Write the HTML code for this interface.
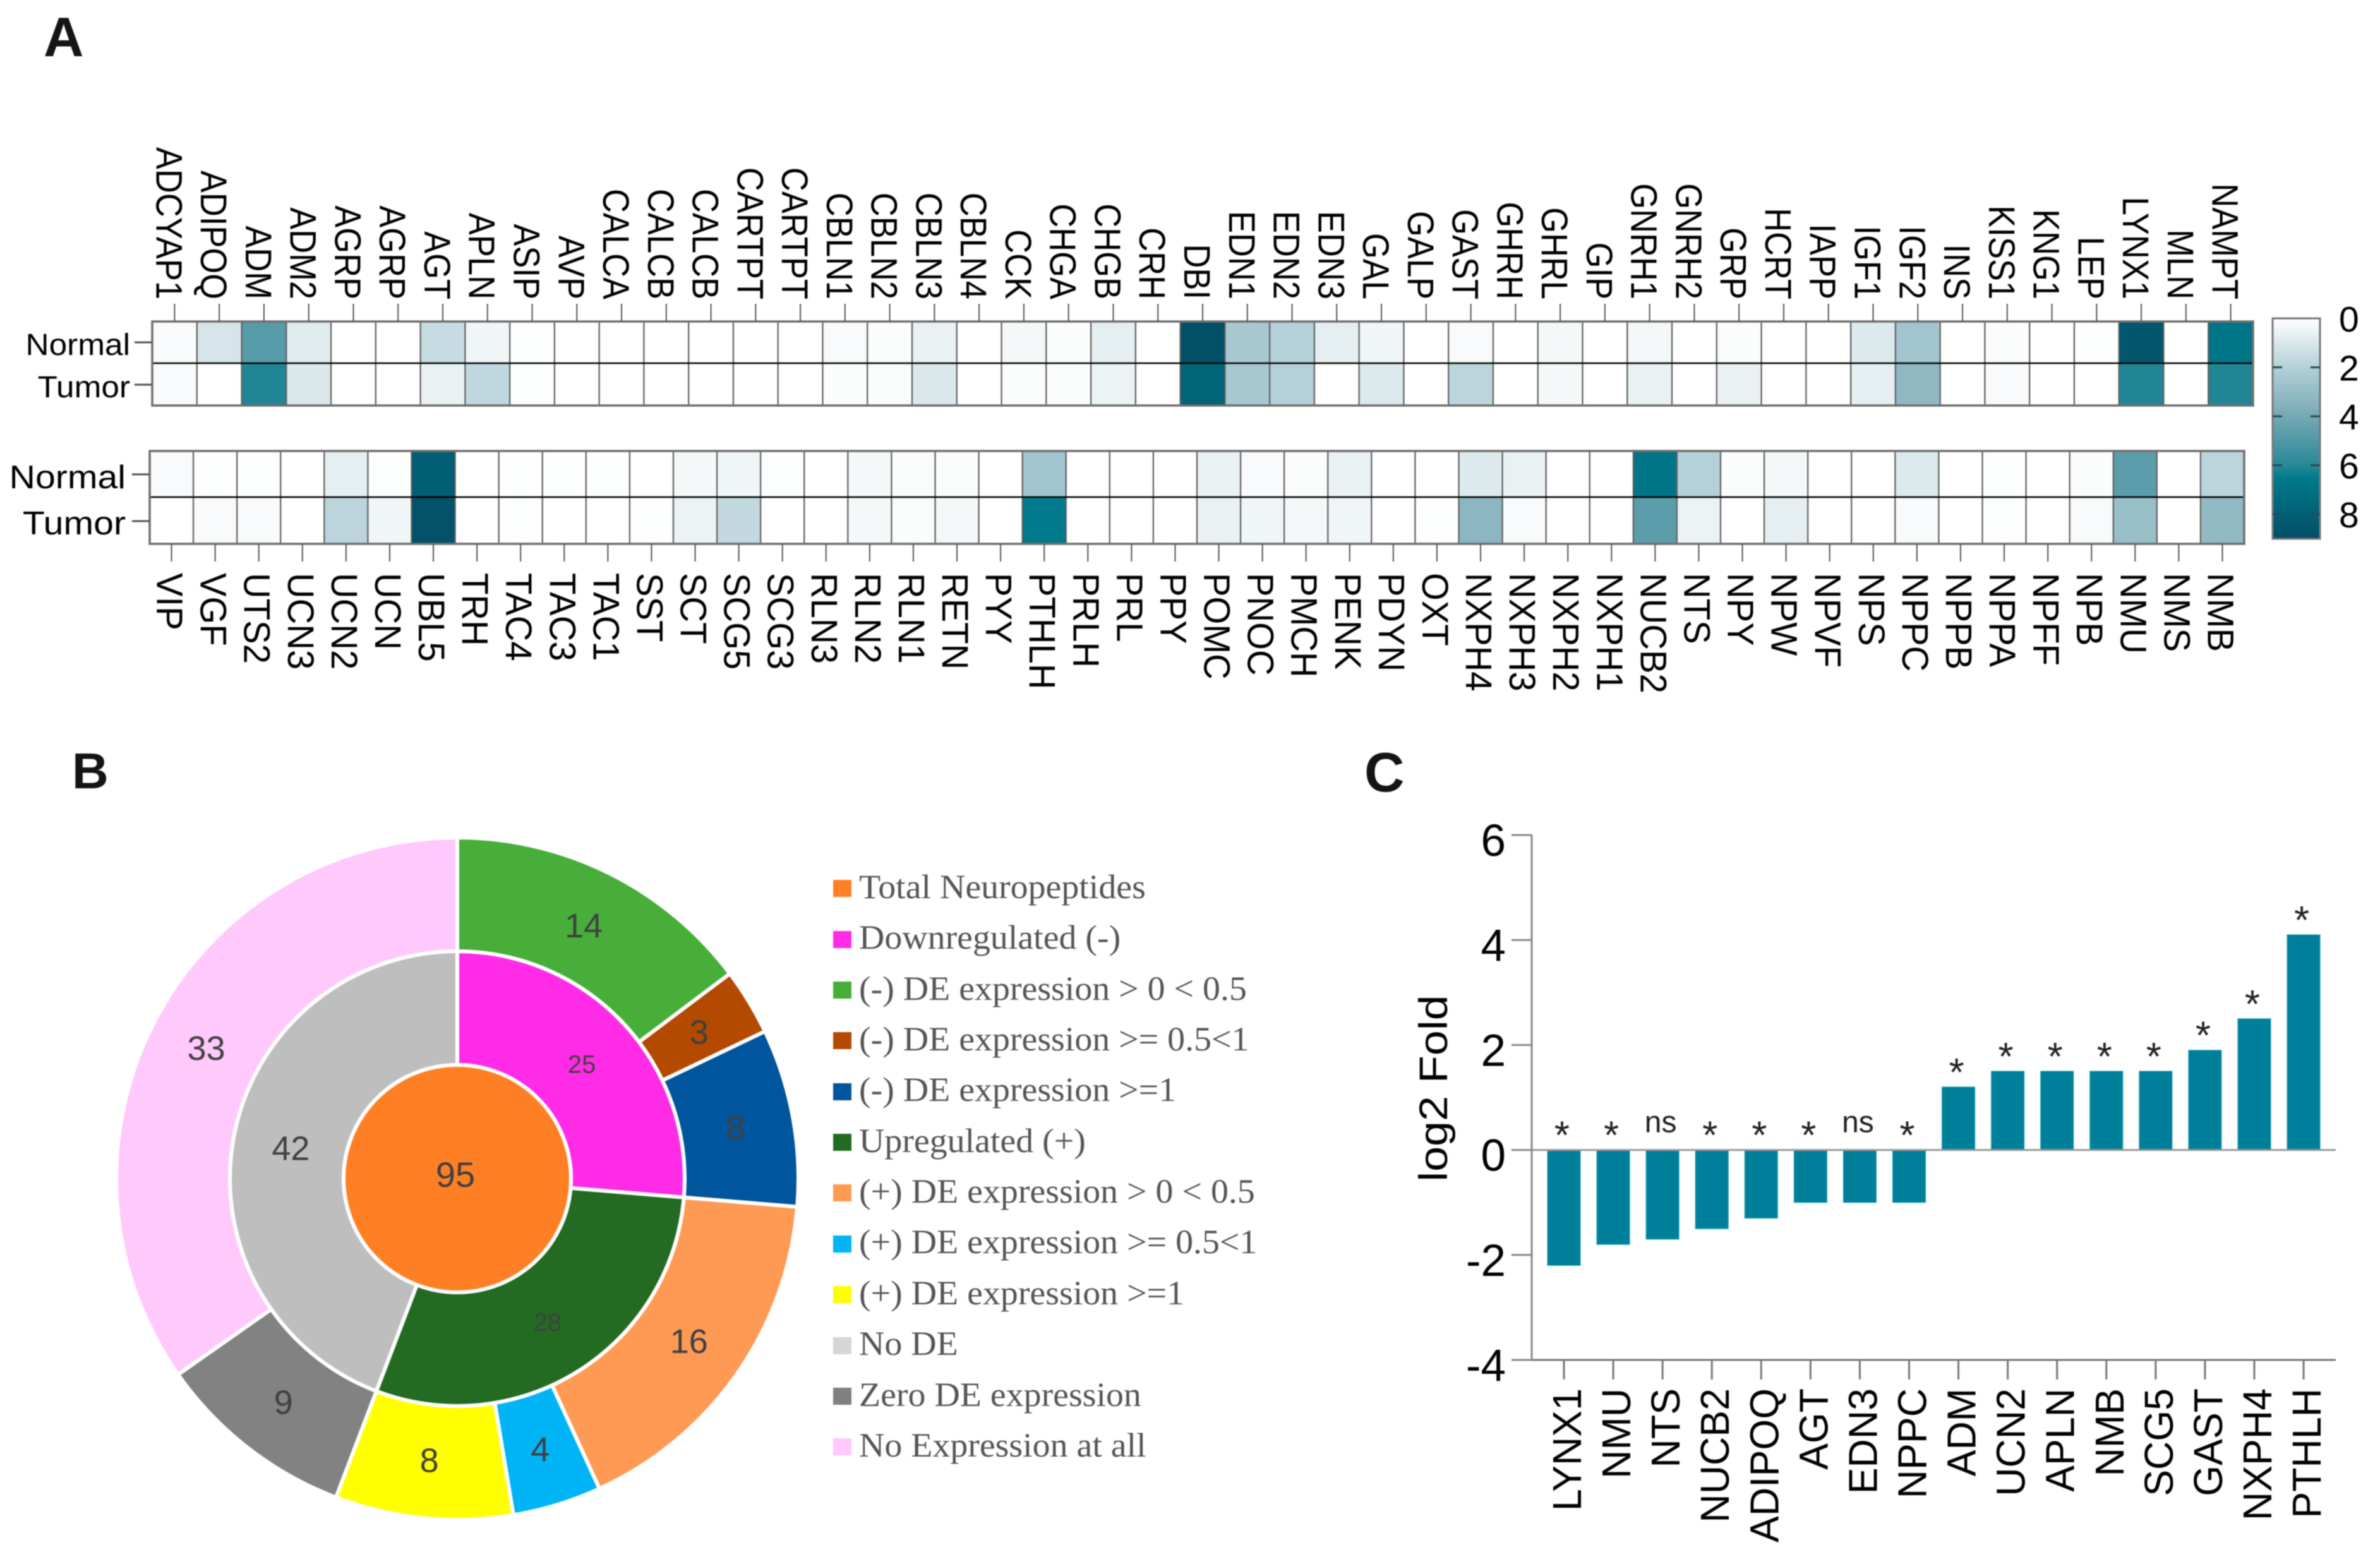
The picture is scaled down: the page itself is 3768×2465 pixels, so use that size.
<!DOCTYPE html>
<html lang="en">
<head>
<meta charset="utf-8">
<title>Neuropeptide expression figure</title>
<style>
html,body{margin:0;padding:0;background:#fff;width:3768px;height:2465px;overflow:hidden}
svg{display:block;filter:blur(.8px)}
text{font-family:"Liberation Sans",sans-serif}
.legend-text{font-family:"Liberation Serif",serif;font-size:54px;fill:#555}
</style>
</head>
<body>
<svg id="figure" xmlns="http://www.w3.org/2000/svg" width="3768" height="2465" viewBox="0 0 3768 2465">
  <rect width="3768" height="2465" fill="#fff"/>
  <text x="69" y="89" font-size="88" font-weight="700" fill="#141414">A</text>
  <text x="114" y="1248" font-size="80" font-weight="700" fill="#141414">B</text>
  <text x="2160" y="1253" font-size="88" font-weight="700" fill="#141414">C</text>

  <g id="heatmap-top"></g>
  <g id="heatmap-bottom"></g>
  <g id="colorbar"></g>
  <g id="donut"></g>

  <g id="legend">
    <g><rect x="1319" y="1393" width="29" height="27" fill="#ff7f24"/><text class="legend-text" transform="translate(1360,1422) scale(1.035,1)">Total Neuropeptides</text></g>
    <g><rect x="1319" y="1474" width="29" height="27" fill="#ff2be6"/><text class="legend-text" transform="translate(1360,1502) scale(1.035,1)">Downregulated (-)</text></g>
    <g><rect x="1319" y="1554" width="29" height="27" fill="#47ae3a"/><text class="legend-text" transform="translate(1360,1583) scale(1.035,1)">(-) DE expression &gt; 0 &lt; 0.5</text></g>
    <g><rect x="1319" y="1634" width="29" height="27" fill="#b44a00"/><text class="legend-text" transform="translate(1360,1663) scale(1.035,1)">(-) DE expression &gt;= 0.5&lt;1</text></g>
    <g><rect x="1319" y="1715" width="29" height="27" fill="#01559c"/><text class="legend-text" transform="translate(1360,1743) scale(1.035,1)">(-) DE expression &gt;=1</text></g>
    <g><rect x="1319" y="1795" width="29" height="27" fill="#236b22"/><text class="legend-text" transform="translate(1360,1824) scale(1.035,1)">Upregulated (+)</text></g>
    <g><rect x="1319" y="1875" width="29" height="27" fill="#ff9a55"/><text class="legend-text" transform="translate(1360,1904) scale(1.035,1)">(+) DE expression &gt; 0 &lt; 0.5</text></g>
    <g><rect x="1319" y="1956" width="29" height="27" fill="#00b4f5"/><text class="legend-text" transform="translate(1360,1984) scale(1.035,1)">(+) DE expression &gt;= 0.5&lt;1</text></g>
    <g><rect x="1319" y="2036" width="29" height="27" fill="#ffff00"/><text class="legend-text" transform="translate(1360,2065) scale(1.035,1)">(+) DE expression &gt;=1</text></g>
    <g><rect x="1319" y="2117" width="29" height="27" fill="#d6d6d6"/><text class="legend-text" transform="translate(1360,2145) scale(1.035,1)">No DE</text></g>
    <g><rect x="1319" y="2197" width="29" height="27" fill="#808080"/><text class="legend-text" transform="translate(1360,2226) scale(1.035,1)">Zero DE expression</text></g>
    <g><rect x="1319" y="2277" width="29" height="27" fill="#ffc9fc"/><text class="legend-text" transform="translate(1360,2306) scale(1.035,1)">No Expression at all</text></g>
  </g>

  <g id="barchart"></g>
</svg>

<script>
// ---- Panel A data ----
const topGenes = ["ADCYAP1","ADIPOQ","ADM","ADM2","AGRP","AGRP","AGT","APLN","ASIP","AVP","CALCA","CALCB","CALCB","CARTPT","CARTPT","CBLN1","CBLN2","CBLN3","CBLN4","CCK","CHGA","CHGB","CRH","DBI","EDN1","EDN2","EDN3","GAL","GALP","GAST","GHRH","GHRL","GIP","GNRH1","GNRH2","GRP","HCRT","IAPP","IGF1","IGF2","INS","KISS1","KNG1","LEP","LYNX1","MLN","NAMPT"];
const topNormal = [0.2,1.1,4.8,0.8,0,0,1.5,0.4,0.05,0,0,0,0,0,0,0.2,0.1,0.6,0,0.3,0.1,0.7,0,8.9,2.4,2.0,0.7,0.4,0,0.2,0,0.3,0,0.3,0,0.1,0,0,0.9,2.6,0,0.1,0,0.05,8.5,0,6.7];
const topTumor = [0.2,0,6.1,1.0,0,0,0.6,1.7,0.05,0,0,0,0,0,0,0.1,0.1,1.0,0,0.1,0.1,0.5,0,7.7,2.4,2.0,0,0.9,0,1.8,0,0.3,0,0.6,0,0.6,0,0,0.7,3.2,0,0.2,0,0,6.1,0,6.1];
const bottomGenes = ["VIP","VGF","UTS2","UCN3","UCN2","UCN","UBL5","TRH","TAC4","TAC3","TAC1","SST","SCT","SCG5","SCG3","RLN3","RLN2","RLN1","RETN","PYY","PTHLH","PRLH","PRL","PPY","POMC","PNOC","PMCH","PENK","PDYN","OXT","NXPH4","NXPH3","NXPH2","NXPH1","NUCB2","NTS","NPY","NPW","NPVF","NPS","NPPC","NPPB","NPPA","NPFF","NPB","NMU","NMS","NMB"];
const bottomNormal = [0.2,0.05,0.05,0,0.7,0.05,8.1,0,0.05,0.05,0.05,0,0.3,0.4,0.05,0,0.3,0.1,0.1,0,2.6,0,0,0,0.6,0.2,0.1,0.6,0,0,0.9,0.6,0,0,6.8,2.0,0.1,0.3,0,0,0.9,0,0.05,0,0.1,4.7,0,1.8];
const bottomTumor = [0,0.2,0.2,0,1.8,0.4,8.8,0,0.05,0,0,0.05,0.5,1.6,0,0,0.3,0.1,0.3,0,6.5,0,0,0,0.6,0.4,0.3,0.4,0,0.05,3.3,0.2,0,0,4.7,0.5,0,0.7,0,0,0.2,0,0.05,0,0.2,2.9,0,3.1];
const rowNames = ["Normal","Tumor"];
const colorbarTicks = [0,2,4,6,8];

// ---- Panel B data ----
const donutCenterValue = 95;
const donutInnerValues = [25,28,42];
const donutInnerColors = ["#ff2be6","#236b22","#bebebe"];
const donutOuterValues = [14,3,8,16,4,8,9,33];
const donutOuterColors = ["#47ae3a","#b44a00","#01559c","#ff9a55","#00b4f5","#ffff00","#828282","#ffc9fc"];

// ---- Panel C data ----
const barGenes = ["LYNX1","NMU","NTS","NUCB2","ADIPOQ","AGT","EDN3","NPPC","ADM","UCN2","APLN","NMB","SCG5","GAST","NXPH4","PTHLH"];
const barValues = [-2.2,-1.8,-1.7,-1.5,-1.3,-1,-1,-1,1.2,1.5,1.5,1.5,1.5,1.9,2.5,4.1];
const barSignificance = ["*","*","ns","*","*","*","ns","*","*","*","*","*","*","*","*","*"];
const barYTicks = [6,4,2,0,-2,-4];

// ---- helpers ----
const SVGNS = "http://www.w3.org/2000/svg";
function mk(tag, attrs, parent, content) {
  const el = document.createElementNS(SVGNS, tag);
  for (const k in attrs) el.setAttribute(k, attrs[k]);
  if (content !== undefined) el.textContent = content;
  parent.appendChild(el);
  return el;
}
const colorStops = [[0,[255,255,255]],[2,[180,208,216]],[4,[118,168,181]],[6,[40,136,151]],[6.5,[0,122,140]],[9,[2,78,102]]];
function colorScale(v) {
  const c = Math.max(0, Math.min(9, v));
  for (let i = 1; i < colorStops.length; i++) {
    const a = colorStops[i-1], b = colorStops[i];
    if (c <= b[0]) {
      const t = (c - a[0]) / (b[0] - a[0]);
      const rgb = a[1].map((x, j) => Math.round(x + (b[1][j] - x) * t));
      return "rgb(" + rgb.join(",") + ")";
    }
  }
  return "rgb(2,78,102)";
}

// ---- Panel A heatmaps ----
function drawHeatmap(g, cfg) {
  const n = cfg.genes.length;
  const x = i => cfg.left + (cfg.right - cfg.left) * i / n;
  const cw = (cfg.right - cfg.left) / n;
  const rowY = [cfg.top, cfg.mid];
  const rowH = [cfg.mid - cfg.top, cfg.bottom - cfg.mid];
  [cfg.normal, cfg.tumor].forEach((series, r) => {
    series.forEach((v, i) => {
      const cell = mk("rect", {x: x(i), y: rowY[r], width: cw + 0.5, height: rowH[r], fill: colorScale(v)}, g);
      
      
    });
  });
  for (let i = 1; i < n; i++) {
    const line = mk("line", {x1: x(i), x2: x(i), y1: cfg.top, y2: cfg.bottom, stroke: "#5f5f5f", "stroke-width": 2.2}, g);
    
    
  }
  const midLine = mk("line", {x1: cfg.left, x2: cfg.right, y1: cfg.mid, y2: cfg.mid, stroke: "#000", "stroke-width": 2.4}, g);
  
  
  const frame = mk("rect", {x: cfg.left, y: cfg.top, width: cfg.right - cfg.left, height: cfg.bottom - cfg.top, fill: "none", stroke: "#6f6f6f", "stroke-width": 3.5}, g);
  
  

  cfg.genes.forEach((name, i) => {
    const cx = x(i) + cw / 2;
    const t1 = cfg.labelsAbove ? cfg.top : cfg.bottom;
    const t2 = cfg.labelsAbove ? cfg.top - 28 : cfg.bottom + 28;
    const tick = mk("line", {x1: cx, x2: cx, y1: t1, y2: t2, stroke: "#555", "stroke-width": 2}, g);
    
    
    const lx = cx + cfg.labelDx;
    const label = mk("text", {
      transform: "translate(" + lx + "," + cfg.labelY + ") rotate(90) scale(" + cfg.labelSx + ",1)",
      "font-size": 58, fill: "#000", "text-anchor": cfg.labelsAbove ? "end" : "start"
    }, g, name);
    
    
  });

  rowNames.forEach((name, r) => {
    const yc = cfg.rowTicks[r];
    const tick = mk("line", {x1: cfg.left - 28, x2: cfg.left, y1: yc, y2: yc, stroke: "#555", "stroke-width": 3}, g);
    
    
    const label = mk("text", {
      transform: "translate(" + cfg.rowLabelX + "," + cfg.rowBaselines[r] + ") scale(" + cfg.rowSx + ",1)",
      "font-size": cfg.rowFont, fill: "#000", "text-anchor": "end"
    }, g, name);
    
    
  });
}
drawHeatmap(document.getElementById("heatmap-top"), {
  genes: topGenes, normal: topNormal, tumor: topTumor,
  left: 241, right: 3567, top: 509, mid: 575, bottom: 642,
  labelsAbove: true, labelY: 474, labelDx: -29, labelSx: 0.905,
  rowTicks: [542, 609], rowBaselines: [562, 629], rowLabelX: 206, rowSx: 1.07, rowFont: 48
});
drawHeatmap(document.getElementById("heatmap-bottom"), {
  genes: bottomGenes, normal: bottomNormal, tumor: bottomTumor,
  left: 237, right: 3553, top: 714, mid: 787, bottom: 861,
  labelsAbove: false, labelY: 907, labelDx: -23, labelSx: 0.97,
  rowTicks: [751, 825], rowBaselines: [773, 846], rowLabelX: 199, rowSx: 1.1, rowFont: 52
});

// ---- Colorbar ----
(function () {
  const g = document.getElementById("colorbar");
  const cbTop = 504, cbBottom = 853, cbLeft = 3598, cbRight = 3673, cbMax = 9;
  const cy = v => cbTop + (cbBottom - cbTop) * v / cbMax;
  const defs = mk("defs", {}, g);
  const grad = mk("linearGradient", {id: "cbGrad", x1: 0, y1: 0, x2: 0, y2: 1}, defs);
  colorStops.forEach(s => {
    mk("stop", {offset: s[0] / cbMax, "stop-color": "rgb(" + s[1].join(",") + ")"}, grad);
  });
  const bar = mk("rect", {x: cbLeft, y: cbTop, width: cbRight - cbLeft, height: cbBottom - cbTop, fill: "url(#cbGrad)", stroke: "#777", "stroke-width": 3}, g);
  
  
  colorbarTicks.forEach(v => {
    if (v > 0) {
      const t1 = mk("line", {x1: cbLeft, x2: cbLeft + 15, y1: cy(v), y2: cy(v), stroke: "#2a4a55", "stroke-width": 3}, g);
      
      
      const t2 = mk("line", {x1: cbRight - 15, x2: cbRight, y1: cy(v), y2: cy(v), stroke: "#2a4a55", "stroke-width": 3}, g);
      
      
    }
    const label = mk("text", {x: 3703, y: cy(v) + 21, "font-size": 57, fill: "#000"}, g, String(v));
    
    
  });
})();

// ---- Panel B donut ----
(function () {
  const g = document.getElementById("donut");
  const cx = 724, cy = 1866;
  const r0 = 180, r1 = 360, r2 = 540;
  const total = donutCenterValue;
  const ang = v => v / total * 2 * Math.PI;
  const pt = (r, a) => [cx + r * Math.sin(a), cy - r * Math.cos(a)];
  function sector(ri, ro, a0, a1) {
    const large = a1 - a0 > Math.PI ? 1 : 0;
    const p1 = pt(ro, a0), p2 = pt(ro, a1), p3 = pt(ri, a1), p4 = pt(ri, a0);
    return "M" + p1 + "A" + ro + "," + ro + " 0 " + large + " 1 " + p2 + "L" + p3 + "A" + ri + "," + ri + " 0 " + large + " 0 " + p4 + "Z";
  }
  function ring(values, colors, ri, ro, labelFonts, labelColors, prefix) {
    let acc = 0;
    values.forEach((v, i) => {
      const a0 = ang(acc), a1 = ang(acc + v);
      const p = mk("path", {d: sector(ri, ro, a0, a1), fill: colors[i], stroke: "#fff", "stroke-width": 6}, g);
      
      
      acc += v;
    });
    acc = 0;
    values.forEach((v, i) => {
      const mid = ang(acc + v / 2);
      const rm = (ri + ro) / 2 - 2;
      const q = pt(rm, mid);
      const fs = labelFonts(v);
      const t = mk("text", {x: q[0], y: q[1] + fs * 0.35, "font-size": fs, "text-anchor": "middle", fill: labelColors}, g, String(v));
      
      
      acc += v;
    });
  }
  ring(donutInnerValues, donutInnerColors, r0, r1, v => v === 42 ? 54 : 40, "#404040", "inner-ring");
  ring(donutOuterValues, donutOuterColors, r1, r2, () => 54, "#404040", "outer-ring");
  const center = mk("circle", {cx: cx, cy: cy, r: r0, fill: "#ff7f24", stroke: "#fff", "stroke-width": 6}, g);
  
  
  const ct = mk("text", {x: cx - 3, y: cy + 13, "font-size": 56, "text-anchor": "middle", fill: "#404040"}, g, String(donutCenterValue));
  
  
})();

// ---- Panel C bars ----
(function () {
  const g = document.getElementById("barchart");
  const axisX = 2425, tickLeft = 2393, axisRight = 3698;
  const yTop = 1322, yBottom = 2153, vMax = 6, vMin = -4;
  const y = v => yTop + (vMax - v) / (vMax - vMin) * (yBottom - yTop);
  const bandStart = 2476, bandStep = 78.07, barW = 52;
  const x = i => bandStart + bandStep * i;

  barValues.forEach((v, i) => {
    const yA = y(Math.max(0, v)), yB = y(Math.min(0, v));
    const bar = mk("rect", {x: x(i) - barW / 2, y: yA, width: barW, height: yB - yA, fill: "#007f9a", stroke: "#12a0b0", "stroke-width": 1}, g);
    
    
    const base = y(Math.max(0, v)) - 38;
    const isStar = barSignificance[i] === "*";
    const sig = mk("text", {
      x: x(i) - 3, y: isStar ? base + 36 : base + 10,
      "font-size": isStar ? 62 : 48, "text-anchor": "middle", fill: "#222"
    }, g, barSignificance[i]);
    
    
    const tick = mk("line", {x1: x(i), x2: x(i), y1: yBottom, y2: yBottom + 31, stroke: "#777", "stroke-width": 3}, g);
    
    
    const label = mk("text", {
      transform: "translate(" + (x(i) + 27) + ",2198) rotate(-90) scale(.98,1)",
      "font-size": 64, "text-anchor": "end", fill: "#000"
    }, g, barGenes[i]);
    
    
  });

  const zero = mk("line", {x1: axisX, x2: axisRight, y1: y(0), y2: y(0), stroke: "#999", "stroke-width": 3}, g);
  
  
  const xAxis = mk("line", {x1: tickLeft, x2: axisRight, y1: yBottom, y2: yBottom, stroke: "#777", "stroke-width": 3}, g);
  
  
  const yAxis = mk("line", {x1: axisX, x2: axisX, y1: yTop, y2: yBottom, stroke: "#888", "stroke-width": 3}, g);
  
  

  barYTicks.forEach(v => {
    const tick = mk("line", {x1: tickLeft, x2: axisX, y1: y(v), y2: y(v), stroke: "#888", "stroke-width": 3}, g);
    
    
    const label = mk("text", {x: 2384, y: y(v) + 33, "font-size": 71, "text-anchor": "end", fill: "#000"}, g, String(v));
    
    
  });
  const title = mk("text", {
    transform: "translate(2291,1723) rotate(-90) scale(1.14,1)",
    "font-size": 63, "text-anchor": "middle", fill: "#000"
  }, g, "log2 Fold");
  
  
})();
</script>
</body>
</html>
